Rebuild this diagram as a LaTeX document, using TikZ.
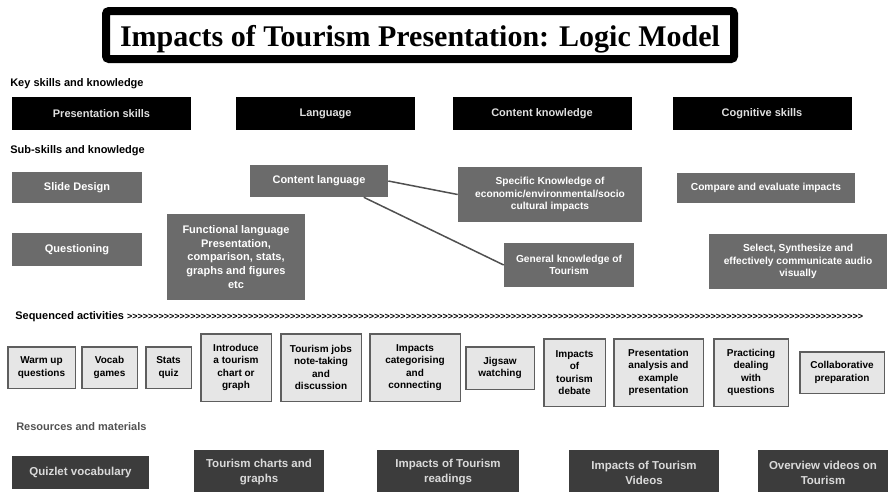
\documentclass[tikz,border=0pt]{standalone}
\usepackage{fontspec}
\setmainfont{Liberation Sans}
\newfontfamily\titlefont{Liberation Serif}
\newfontfamily\chevfont{Liberation Sans}[Ligatures=TeXOff]
\usetikzlibrary{positioning}
\definecolor{subgray}{HTML}{6B6B6B}
\definecolor{actfill}{HTML}{E6E6E6}
\definecolor{actline}{HTML}{5E5E5E}
\definecolor{resfill}{HTML}{3C3C3C}
\definecolor{restext}{HTML}{DADADA}
\definecolor{linkgray}{HTML}{505050}

\begin{document}
\begin{tikzpicture}[x=1pt,y=-1pt,semithick,
  head/.style={anchor=base west, inner sep=0pt, font=\bfseries\fontsize{11}{13}\selectfont},
  keybox/.style={shape=rectangle, fill=black, text=black!12, inner sep=0pt, minimum width=179pt, minimum height=33pt, font=\bfseries\fontsize{11}{13}\selectfont},
  subbox/.style={shape=rectangle, fill=subgray, text=white, inner sep=0pt, align=center, font=\bfseries\fontsize{11}{13.7}\selectfont},
  subsmall/.style={subbox, font=\bfseries\fontsize{10.2}{12.3}\selectfont},
  actbox/.style={shape=rectangle, draw=actline, line width=1.5pt, fill=actfill, inner sep=0pt, align=center, font=\bfseries\fontsize{10}{12.3}\selectfont},
  resbox/.style={shape=rectangle, fill=resfill, text=restext, inner sep=0pt, align=center, font=\bfseries\fontsize{11.5}{15}\selectfont},
  link/.style={draw=linkgray, line width=1.5pt}]
\useasboundingbox (0,0) rectangle (888,491);
\clip (0,0) rectangle (888,491);

% title
\node[draw=black, line width=8pt, rounded corners=3pt, inner sep=0pt, minimum width=628pt, minimum height=48pt, text height=26pt, text depth=3pt, font=\titlefont\bfseries\fontsize{30}{32}\selectfont] (T) at (420,35) {Impacts of Tourism Presentation: Logic Model};

% key skills
\node[head] (KH) at (10,86) {Key skills and knowledge};
\node[keybox] (PS) at (101.5,113.5) {Presentation skills};
\node[keybox] (LA) at (325.5,113.5) {Language};
\node[keybox] (CK) at (542,113.5) {Content knowledge};
\node[keybox] (CS) at (762,113.5) {Cognitive skills};

% sub-skills
\node[head] (SH) at (10,153.3) {Sub-skills and knowledge};
\node[subbox, minimum width=130pt, minimum height=31pt] (SD) at (77,187.5) {Slide Design};
\node[subbox, minimum width=130pt, minimum height=33pt] (QU) at (77,249.5) {Questioning};
\node[subbox, minimum width=138pt, minimum height=86pt] (FL) at (236,257) {Functional language\\Presentation,\\comparison, stats,\\graphs and figures\\etc};
\node[subbox, minimum width=138pt, minimum height=32pt] (CL) at (319,181) {Content language};
\node[subsmall, minimum width=184pt, minimum height=55pt] (SK) at (550,194.5) {Specific Knowledge of\\economic/environmental/socio\\cultural impacts};
\node[subsmall, minimum width=130pt, minimum height=44pt] (GK) at (569,265) {General knowledge of\\Tourism};
\node[subsmall, minimum width=178pt, minimum height=30pt] (CE) at (766,188) {Compare and evaluate impacts};
\node[subsmall, minimum width=178pt, minimum height=55pt] (SS) at (798,261.5) {Select, Synthesize and\\effectively communicate audio\\visually};
\path[link] (CL.east) edge (SK.west)
  (CL.-20) edge (GK.west);

% sequenced activities
\node[head] (AH) at (15,319.3) {Sequenced activities {\chevfont\bfseries\fontsize{9}{9}\selectfont >>>>>>>>>>>>>>>>>>>>%
>>>>>>>>>>>>>>>>>>>>%
>>>>>>>>>>>>>>>>>>>>%
>>>>>>>>>>>>>>>>>>>>%
>>>>>>>>>>>>>>>>>>>>%
>>>>>>>>>>>>>>>>>>>>%
>>>>>>>>>>>>>>>>>>>>}};
\node[actbox, minimum width=67.5pt, minimum height=41.5pt] (A1) at (41.5,367.5) {Warm up\\questions};
\node[actbox, minimum width=55.5pt, minimum height=41.5pt] (A2) at (109.5,367.5) {Vocab\\games};
\node[actbox, minimum width=45.5pt, minimum height=41.5pt] (A3) at (168.5,367.5) {Stats\\quiz};
\node[actbox, minimum width=70.5pt, minimum height=67.5pt] (A4) at (236,367.5) {Introduce\\a tourism\\chart or\\graph};
\node[actbox, minimum width=80.5pt, minimum height=67.5pt] (A5) at (321,367.5) {Tourism jobs\\note-taking\\and\\discussion};
\node[actbox, minimum width=90.5pt, minimum height=67.5pt] (A6) at (415,367.5) {Impacts\\categorising\\and\\connecting};
\node[actbox, minimum width=68.5pt, minimum height=42.5pt] (A7) at (500,368) {Jigsaw\\watching};
\node[actbox, minimum width=61.5pt, minimum height=67.5pt] (A8) at (574.5,372.5) {Impacts\\of\\tourism\\debate};
\node[actbox, minimum width=89.5pt, minimum height=67.5pt] (A9) at (658.5,372.5) {Presentation\\analysis and\\example\\presentation};
\node[actbox, minimum width=74.5pt, minimum height=67.5pt] (A10) at (751,372.5) {Practicing\\dealing\\with\\questions};
\node[actbox, minimum width=84.5pt, minimum height=41.5pt] (A11) at (842,372.5) {Collaborative\\preparation};

% resources
\node[head, text=black!68] (RH) at (16,430.7) {Resources and materials};
\node[resbox, minimum width=137pt, minimum height=33pt] (R1) at (80.5,472.5) {Quizlet vocabulary};
\node[resbox, minimum width=130pt, minimum height=45pt] (R2) at (259,472.5) {Tourism charts and\\graphs};
\node[resbox, minimum width=142pt, minimum height=45pt] (R3) at (448,472.5) {Impacts of Tourism\\readings};
\node[resbox, minimum width=150pt, minimum height=45pt] (R4) at (644,472.5) {Impacts of Tourism\\Videos};
\node[resbox, minimum width=130pt, minimum height=45pt] (R5) at (823,472.5) {Overview videos on\\Tourism};
\end{tikzpicture}
\end{document}
